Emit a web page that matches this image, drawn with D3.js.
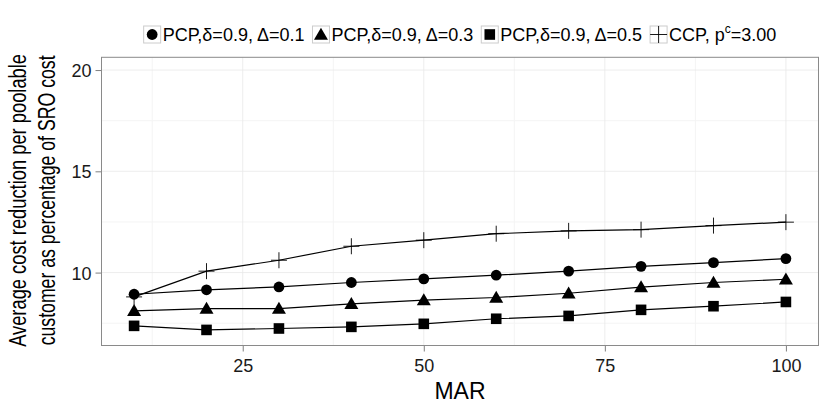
<!DOCTYPE html>
<html>
<head>
<meta charset="utf-8">
<script src="https://cdn.jsdelivr.net/npm/d3@7"></script>
<style>
  html, body { margin: 0; padding: 0; background: #ffffff; }
  svg { display: block; font-family: "Liberation Sans", Arial, Helvetica, sans-serif; }
</style>
</head>
<body>
<svg id="chart" width="830" height="415"></svg>
<script>
// ---- data ----
const mar = [10, 20, 30, 40, 50, 60, 70, 80, 90, 100];
const pcp01 = [8.93, 9.15, 9.29, 9.51, 9.69, 9.87, 10.07, 10.31, 10.49, 10.69];
const pcp03 = [8.11, 8.22, 8.22, 8.46, 8.64, 8.77, 8.98, 9.28, 9.51, 9.67];
const pcp05 = [7.37, 7.17, 7.24, 7.32, 7.47, 7.72, 7.86, 8.16, 8.34, 8.55];
const ccp   = [8.80, 10.07, 10.61, 11.30, 11.60, 11.92, 12.06, 12.12, 12.32, 12.49];
const seriesNames = ["PCP,\u03b4=0.9, \u0394=0.1", "PCP,\u03b4=0.9, \u0394=0.3", "PCP,\u03b4=0.9, \u0394=0.5", "CCP, p"];
const seriesShapes = ["circle", "triangle", "square", "plus"];
const xTicks = [25, 50, 75, 100];
const xMinor = [12.5, 37.5, 62.5, 87.5];
const yTicks = [10, 15, 20];
const yMinor = [7.5, 12.5, 17.5];
const xTitle = "MAR";
const yTitle = ["Average cost reduction per poolable", "customer as percentage of SRO cost"];

const series = [pcp01, pcp03, pcp05, ccp].map((vals, i) => ({
  name: seriesNames[i], shape: seriesShapes[i],
  points: vals.map((v, j) => ({ x: mar[j], y: v }))
}));

// ---- layout ----
const svg = d3.select("#chart");
const panel = { left: 101.5, right: 818.5, top: 57.3, bottom: 345.5 };
const x = d3.scaleLinear().domain([5.5, 104.5]).range([panel.left, panel.right]);
const y = d3.scaleLinear().domain([6.4, 20.63]).range([panel.bottom, panel.top]);

// grid
const g = svg.append("g");
g.selectAll(".xminor").data(xMinor).join("line")
  .attr("x1", d => x(d)).attr("x2", d => x(d)).attr("y1", panel.top).attr("y2", panel.bottom)
  .attr("stroke", "#f4f4f4").attr("stroke-width", 1);
g.selectAll(".yminor").data(yMinor).join("line")
  .attr("y1", d => y(d)).attr("y2", d => y(d)).attr("x1", panel.left).attr("x2", panel.right)
  .attr("stroke", "#f4f4f4").attr("stroke-width", 1);
g.selectAll(".xmajor").data(xTicks).join("line")
  .attr("x1", d => x(d)).attr("x2", d => x(d)).attr("y1", panel.top).attr("y2", panel.bottom)
  .attr("stroke", "#e8e8e8").attr("stroke-width", 0.8);
g.selectAll(".ymajor").data(yTicks).join("line")
  .attr("y1", d => y(d)).attr("y2", d => y(d)).attr("x1", panel.left).attr("x2", panel.right)
  .attr("stroke", "#e8e8e8").attr("stroke-width", 0.8);

// axes
const xAxis = d3.axisBottom(x).tickValues(xTicks).tickSize(6).tickPadding(4).tickFormat(d3.format("d"));
const yAxis = d3.axisLeft(y).tickValues(yTicks).tickSize(6).tickPadding(4).tickFormat(d3.format("d"));
const gx = svg.append("g").attr("transform", `translate(0,${panel.bottom})`).call(xAxis);
const gy = svg.append("g").attr("transform", `translate(${panel.left},0)`).call(yAxis);
[gx, gy].forEach(a => {
  a.select(".domain").remove();
  a.selectAll(".tick line").attr("stroke", "#7f7f7f").attr("stroke-width", 1);
  a.selectAll(".tick text").attr("fill", "#1a1a1a").style("font-size", "18px").style("font-family", "Liberation Sans, Arial, sans-serif");
});
gx.selectAll(".tick text").attr("dy", "0.9em");
gy.selectAll(".tick text").attr("dy", "0.36em");

// panel border
svg.append("rect").attr("x", panel.left).attr("y", panel.top)
  .attr("width", panel.right - panel.left).attr("height", panel.bottom - panel.top)
  .attr("fill", "none").attr("stroke", "#8a8a8a").attr("stroke-width", 1);

// shapes
function drawShape(sel, shape, cx, cy, scale) {
  const s = scale || 1;
  if (shape === "circle") {
    sel.append("circle").attr("cx", cx).attr("cy", cy).attr("r", 5.4 * s).attr("fill", "#000");
  } else if (shape === "triangle") {
    const h = 6.8 * s, w = 7 * s, b = 5.2 * s;
    sel.append("path").attr("d", `M${cx},${cy - h}L${cx + w},${cy + b}L${cx - w},${cy + b}Z`).attr("fill", "#000");
  } else if (shape === "square") {
    const a = 5.3 * s;
    sel.append("rect").attr("x", cx - a).attr("y", cy - a).attr("width", 2 * a).attr("height", 2 * a).attr("fill", "#000");
  } else if (shape === "plus") {
    const a = 8 * s;
    sel.append("path").attr("d", `M${cx - a},${cy}H${cx + a}M${cx},${cy - a}V${cy + a}`)
      .attr("stroke", "#000").attr("stroke-width", 0.9).attr("fill", "none");
  }
}

// lines + points
const line = d3.line().x(d => x(d.x)).y(d => y(d.y));
series.forEach(s => {
  svg.append("path").attr("d", line(s.points)).attr("fill", "none")
    .attr("stroke", "#000").attr("stroke-width", 1.2);
});
series.forEach(s => {
  const gp = svg.append("g");
  s.points.forEach(p => drawShape(gp, s.shape, x(p.x), y(p.y)));
});

// axis titles
svg.append("text").attr("x", (panel.left + panel.right) / 2).attr("y", 399)
  .attr("text-anchor", "middle").attr("fill", "#000").style("font-size", "23px").text(xTitle);
const yMid = (panel.top + panel.bottom) / 2 - 1;
const yTitleX = [26, 55];
const yTitleLen = [293, 290];
yTitle.forEach((t, i) => {
  const gt = svg.append("g");
  const tt = gt.append("text")
    .attr("text-anchor", "middle").attr("fill", "#000").style("font-size", "24px")
    .text(t);
  const natural = tt.node().getComputedTextLength();
  const sx = yTitleLen[i] / natural;
  gt.attr("transform", `translate(${yTitleX[i]},${yMid}) rotate(-90) scale(${sx},1)`);
});

// legend
const key = 17, gap = 2, legY = 26;
const leg = svg.append("g");
const items = series.map((s, i) => {
  const gi = leg.append("g");
  gi.append("rect").attr("x", 0).attr("y", legY).attr("width", key).attr("height", key)
    .attr("fill", "#fff").attr("stroke", "#cccccc").attr("stroke-width", 1);
  drawShape(gi, s.shape, key / 2, legY + key / 2, i === 3 ? 1.06 : 1);
  const tx = gi.append("text").attr("x", key + gap).attr("y", legY + 15)
    .attr("fill", "#000").style("font-size", "18px").text(s.name);
  if (i === 3) {
    tx.append("tspan").attr("dy", -8).style("font-size", "12px").text("c");
    tx.append("tspan").attr("dy", 8).text("=3.00");
  }
  return { g: gi, w: key + gap + tx.node().getComputedTextLength() };
});
const spacing = 8;
const total = d3.sum(items, d => d.w) + spacing * (items.length - 1);
let cur = (panel.left + panel.right) / 2 - total / 2;
items.forEach(it => { it.g.attr("transform", `translate(${cur},0)`); cur += it.w + spacing; });
</script>
</body>
</html>
